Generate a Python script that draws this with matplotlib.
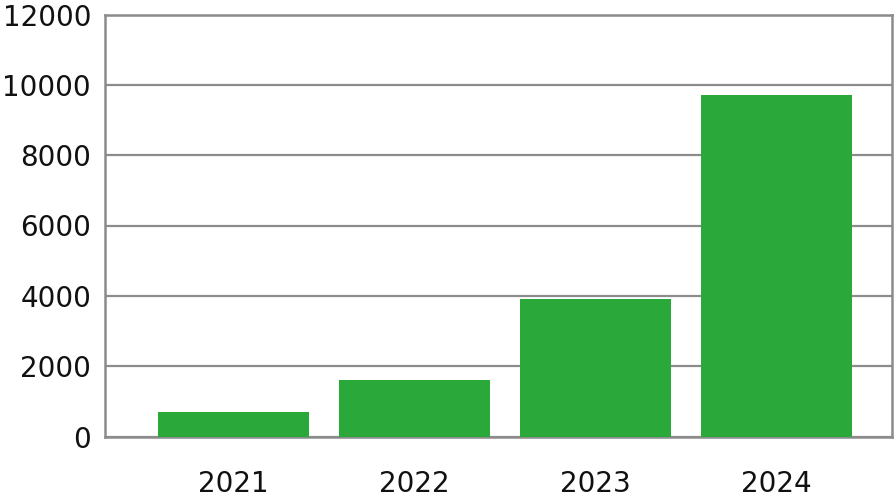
import matplotlib
matplotlib.use("Agg")
import matplotlib.pyplot as plt

categories = ["2021", "2022", "2023", "2024"]
values = [700, 1620, 3900, 9720]
yticks = [0, 2000, 4000, 6000, 8000, 10000, 12000]

plt.rcParams['font.family'] = ['DejaVu Sans']

fig = plt.figure(figsize=(8.94, 5.04), dpi=100)
ax = fig.add_axes([105/894, 1 - 436.5/504, (892-105)/894, (436.5-14.5)/504])

x = list(range(len(categories)))
ax.bar(x, values, width=0.834, color="#2aa83a", zorder=3)
ax.set_xlim(-0.71, 3.638)
ax.set_ylim(0, 12000)
ax.set_yticks(yticks)
ax.set_yticklabels([str(t) for t in yticks])
ax.set_xticks(x)
ax.set_xticklabels(categories)
ax.yaxis.grid(True, color="#8c8c8c", linewidth=1.6, zorder=0)
ax.xaxis.grid(False)
for s in ax.spines.values():
    s.set_color("#8c8c8c")
    s.set_linewidth(1.8)
ax.tick_params(axis='both', length=0, labelsize=20, colors="#111111")
ax.tick_params(axis='y', pad=10)
ax.tick_params(axis='x', pad=24)
fig.savefig("out.png", dpi=100)
